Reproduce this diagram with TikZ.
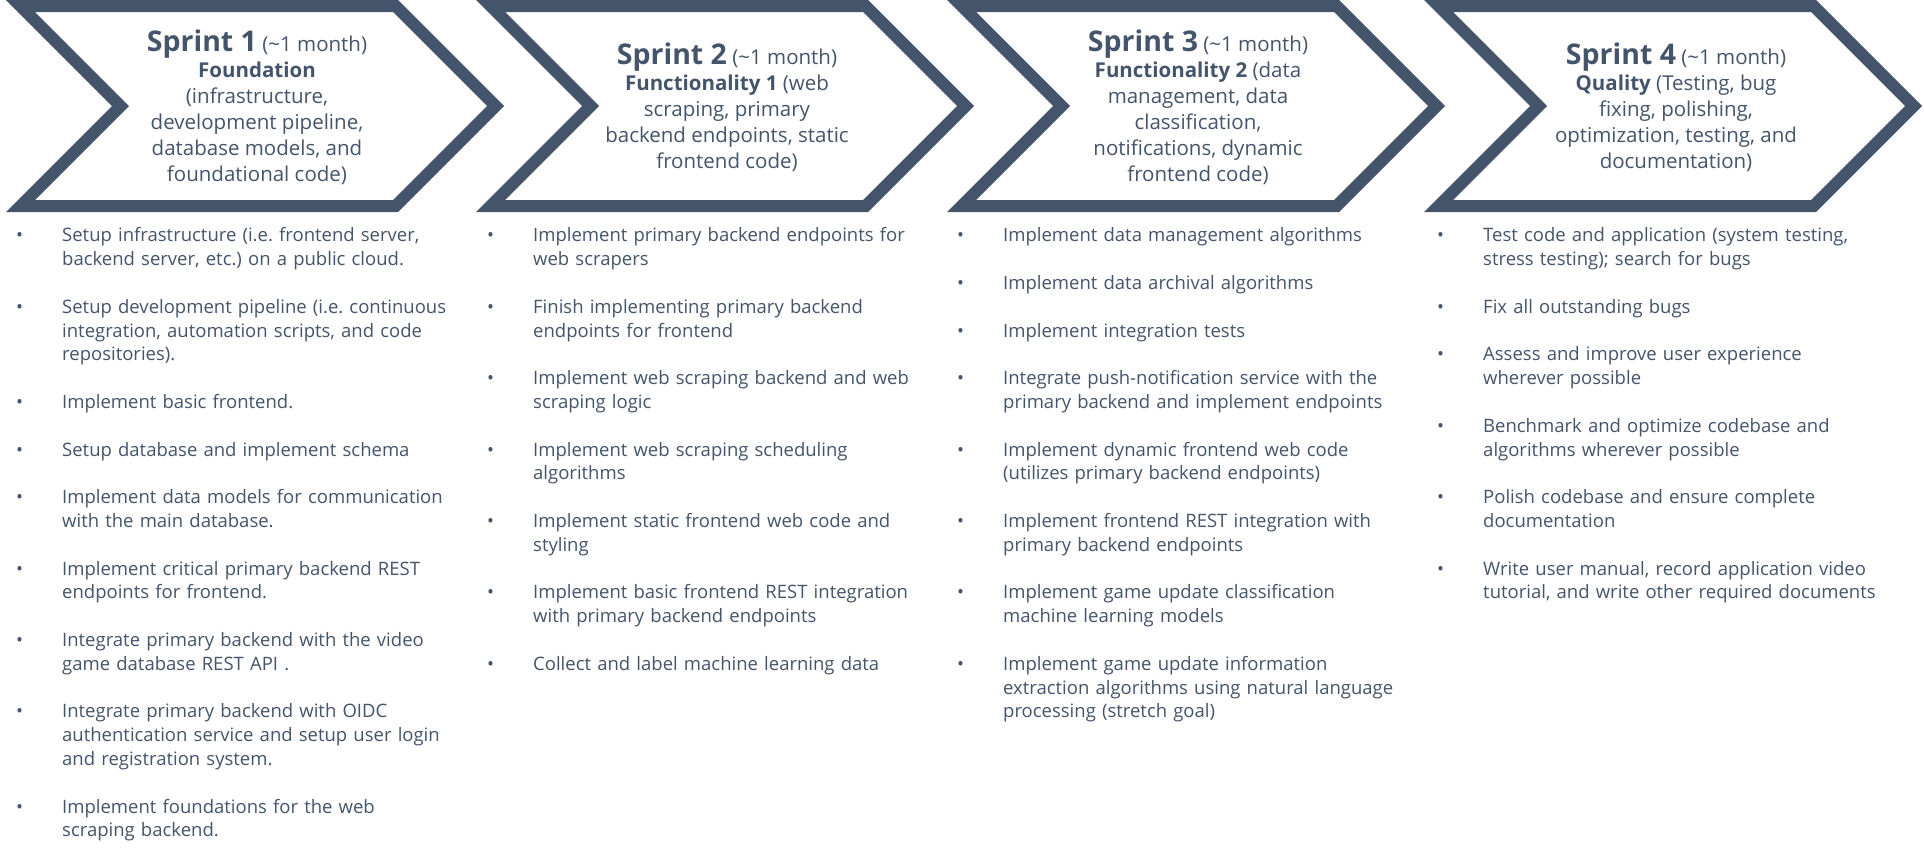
\documentclass[tikz,border=0pt]{standalone}
\usepackage{fontspec}
\setmainfont{Open Sans}
\frenchspacing
\definecolor{slate}{HTML}{44546A}
\newcommand{\task}[1]{\par\noindent\hangindent=55pt\hangafter=1\makebox[55pt][l]{\hspace{9pt}\textbullet}#1\par}
\newcommand{\sprint}[1]{{\fontsize{28.5}{30}\selectfont\bfseries Sprint #1} (\textasciitilde1 month)}

\begin{document}
\begin{tikzpicture}[x=1pt,y=1pt,
        chev/.style={fill=slate,even odd rule},
        head/.style={text=slate,align=center,inner sep=0pt,font=\fontsize{20.5}{26}\selectfont},
        tasks/.style={text=slate,anchor=north west,text width=465pt,inner sep=0pt,
            font=\fontsize{18.5}{23.8}\selectfont\setlength{\parskip}{23.8pt}}]
        \useasboundingbox (0,0) rectangle (1924,-855);
        \fill[chev,shift={(6,0)}] (0,0) -- (392,0) -- (498,-106) -- (392,-212) -- (0,-212) -- (106,-106) -- cycle
            (29,-12) -- (387,-12) -- (481,-106) -- (387,-200) -- (29,-200) -- (123,-106) -- cycle;
        \fill[chev,shift={(476,0)}] (0,0) -- (392,0) -- (498,-106) -- (392,-212) -- (0,-212) -- (106,-106) -- cycle
            (29,-12) -- (387,-12) -- (481,-106) -- (387,-200) -- (29,-200) -- (123,-106) -- cycle;
        \fill[chev,shift={(947,0)}] (0,0) -- (392,0) -- (498,-106) -- (392,-212) -- (0,-212) -- (106,-106) -- cycle
            (29,-12) -- (387,-12) -- (481,-106) -- (387,-200) -- (29,-200) -- (123,-106) -- cycle;
        \fill[chev,shift={(1424,0)}] (0,0) -- (392,0) -- (498,-106) -- (392,-212) -- (0,-212) -- (106,-106) -- cycle
            (29,-12) -- (387,-12) -- (481,-106) -- (387,-200) -- (29,-200) -- (123,-106) -- cycle;
        \node[head] (head1) at (257,-107) {\sprint{1}\\ \textbf{Foundation}\\ (infrastructure,\\ development pipeline,\\ database models, and\\ foundational code)};
        \node[head] (head2) at (727,-107) {\sprint{2}\\ \textbf{Functionality 1} (web\\ scraping, primary\\ backend endpoints, static\\ frontend code)};
        \node[head] (head3) at (1198,-107) {\sprint{3}\\ \textbf{Functionality 2} (data\\ management, data\\ classification,\\ notifications, dynamic\\ frontend code)};
        \node[head] (head4) at (1676,-107) {\sprint{4}\\ \textbf{Quality} (Testing, bug\\ fixing, polishing,\\ optimization, testing, and\\ documentation)};
        \node[tasks] (tasks1) at (7,-194) {%
            \task{Setup infrastructure (i.e. frontend server,\newline backend server, etc.) on a public cloud.}
            \task{Setup development pipeline (i.e. continuous\newline integration, automation scripts, and code\newline repositories).}
            \task{Implement basic frontend.}
            \task{Setup database and implement schema}
            \task{Implement data models for communication\newline with the main database.}
            \task{Implement critical primary backend REST\newline endpoints for frontend.}
            \task{Integrate primary backend with the video\newline game database REST API .}
            \task{Integrate primary backend with OIDC\newline authentication service and setup user login\newline and registration system.}
            \task{Implement foundations for the web\newline scraping backend.}};
        \node[tasks] (tasks2) at (478,-194) {%
            \task{Implement primary backend endpoints for\newline web scrapers}
            \task{Finish implementing primary backend\newline endpoints for frontend}
            \task{Implement web scraping backend and web\newline scraping logic}
            \task{Implement web scraping scheduling\newline algorithms}
            \task{Implement static frontend web code and\newline styling}
            \task{Implement basic frontend REST integration\newline with primary backend endpoints}
            \task{Collect and label machine learning data}};
        \node[tasks] (tasks3) at (948,-194) {%
            \task{Implement data management algorithms}
            \task{Implement data archival algorithms}
            \task{Implement integration tests}
            \task{Integrate push-notification service with the\newline primary backend and implement endpoints}
            \task{Implement dynamic frontend web code\newline (utilizes primary backend endpoints)}
            \task{Implement frontend REST integration with\newline primary backend endpoints}
            \task{Implement game update classification\newline machine learning models}
            \task{Implement game update information\newline extraction algorithms using natural language\newline processing (stretch goal)}};
        \node[tasks] (tasks4) at (1428,-194) {%
            \task{Test code and application (system testing,\newline stress testing); search for bugs}
            \task{Fix all outstanding bugs}
            \task{Assess and improve user experience\newline wherever possible}
            \task{Benchmark and optimize codebase and\newline algorithms wherever possible}
            \task{Polish codebase and ensure complete\newline documentation}
            \task{Write user manual, record application video\newline tutorial, and write other required documents}};
    \end{tikzpicture}
\end{document}
